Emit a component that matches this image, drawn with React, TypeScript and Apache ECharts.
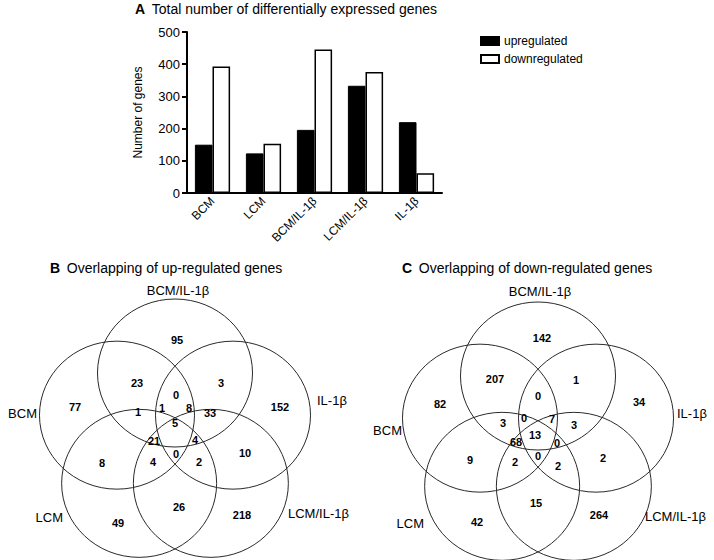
import React, { useEffect, useRef } from 'react';
import * as echarts from 'echarts';

const FONT = '"Liberation Sans", Arial, Helvetica, sans-serif';

// ---- Panel A data ----
const categories = ['BCM', 'LCM', 'BCM/IL-1β', 'LCM/IL-1β', 'IL-1β'];
const upregulated = [150, 123, 196, 333, 220];
const downregulated = [393, 153, 446, 376, 61];
const yMin = 0;
const yMax = 500;
const yInterval = 100;

// ---- Panel B / C data (Venn region counts) ----
const upOverlapCounts = [95, 23, 3, 0, 77, 152, 1, 1, 8, 33, 5, 21, 4, 10, 8, 4, 0, 2, 26, 218, 49];
const downOverlapCounts = [142, 207, 1, 0, 82, 34, 3, 0, 7, 3, 13, 68, 0, 2, 9, 2, 0, 2, 15, 264, 42];
// set names: top, right, lower-right, lower-left, left
const vennSetNames = ['BCM/IL-1β', 'IL-1β', 'LCM/IL-1β', 'LCM', 'BCM'];

// ---- layout (positions, not data) ----
const upCenter = [175, 434];
const downCenter = [538, 437];
const upCountOffsets = [
  [2, -94], [-38, -51], [46, -51], [1, -39], [-100, -27], [105, -27],
  [-37, -22], [-13, -26], [14, -26], [35, -21], [0, -11], [-21, 7], [20, 6],
  [70, 19], [-73, 29], [-22, 28], [1, 20], [24, 28], [4, 73], [67, 81], [-57, 89],
];
const downCountOffsets = [
  [4, -99], [-43, -58], [38, -57], [0, -41], [-98, -33], [101, -35],
  [-35, -14], [-14, -19], [14, -18], [36, -12], [-3, -2], [-22, 5], [19, 6],
  [65, 21], [-68, 23], [-23, 25], [0, 19], [20, 29], [-2, 66], [61, 78], [-61, 85],
];
const upSetLabelPos: [number, number, string][] = [
  [178, 290, 'center'], [317, 400, 'left'], [288, 513, 'left'], [63, 517, 'right'], [37, 413, 'right'],
];
const downSetLabelPos: [number, number, string][] = [
  [540, 291, 'center'], [677, 413, 'left'], [645, 516, 'left'], [424, 523, 'right'], [402, 430, 'right'],
];
const ellipseAngles = [-90, -18, 54, 126, 198];

function vennGraphics(center: number[], counts: number[], offsets: number[][], setPos: [number, number, string][]) {
  const els: any[] = [];
  const dist = 61;
  ellipseAngles.forEach((a) => {
    const r = (a * Math.PI) / 180;
    els.push({
      type: 'ellipse',
      shape: { cx: center[0] + dist * Math.cos(r), cy: center[1] + dist * Math.sin(r), rx: 77.5, ry: 74 },
      style: { fill: 'none', stroke: '#2a2a2a', lineWidth: 1 },
      silent: true,
    });
  });
  counts.forEach((c, i) => {
    els.push({
      type: 'text',
      x: center[0] + offsets[i][0],
      y: center[1] + offsets[i][1],
      style: {
        text: String(c), fontSize: 11, fontWeight: 'bold', fontFamily: FONT,
        fill: '#000', align: 'center', verticalAlign: 'middle',
      },
    });
  });
  vennSetNames.forEach((n, i) => {
    els.push({
      type: 'text',
      x: setPos[i][0],
      y: setPos[i][1],
      style: {
        text: n, fontSize: 13, fontFamily: FONT, fill: '#000',
        align: setPos[i][2], verticalAlign: 'middle',
      },
    });
  });
  return els;
}

function titleText(x: number, y: number, letter: string, text: string) {
  return {
    type: 'text',
    x, y,
    style: {
      text: `{l|${letter}}  {t|${text}}`,
      fontFamily: FONT,
      verticalAlign: 'middle',
      rich: {
        l: { fontSize: 14, fontWeight: 'bold', fontFamily: FONT, fill: '#000' },
        t: { fontSize: 14, fontFamily: FONT, fill: '#000' },
      },
    },
  };
}

export default function App() {
  const ref = useRef<HTMLDivElement>(null);
  useEffect(() => {
    if (!ref.current) return;
    const chart = echarts.init(ref.current, null, { renderer: 'svg' });
    chart.setOption({
      animation: false,
      backgroundColor: '#fff',
      textStyle: { fontFamily: FONT },
      grid: { left: 187, right: 272, top: 32, bottom: 367, containLabel: false },
      legend: {
        orient: 'vertical',
        left: 475,
        top: 30,
        itemWidth: 18,
        itemHeight: 8,
        itemGap: 6,
        icon: 'rect',
        textStyle: { fontSize: 12, color: '#000', fontFamily: FONT },
        data: ['upregulated', 'downregulated'],
      },
      xAxis: {
        type: 'category',
        data: categories,
        axisLine: { lineStyle: { color: '#000', width: 2 } },
        axisTick: { show: false },
        axisLabel: { rotate: 45, fontSize: 12, color: '#000', margin: 6, interval: 0, fontFamily: FONT },
      },
      yAxis: {
        type: 'value',
        min: yMin,
        max: yMax,
        interval: yInterval,
        name: 'Number of genes',
        nameLocation: 'middle',
        nameGap: 43,
        nameTextStyle: { fontSize: 12, color: '#000', fontFamily: FONT },
        axisLine: { show: true, lineStyle: { color: '#000', width: 2 } },
        axisTick: { show: true, length: 5, lineStyle: { color: '#000', width: 2 } },
        axisLabel: { fontSize: 13, color: '#000', margin: 7, fontFamily: FONT },
        splitLine: { show: false },
      },
      series: [
        {
          name: 'upregulated', type: 'bar', data: upregulated,
          barGap: '0%', barCategoryGap: '31%',
          itemStyle: { color: '#000', borderColor: '#000', borderWidth: 1 },
        },
        {
          name: 'downregulated', type: 'bar', data: downregulated,
          barGap: '0%', barCategoryGap: '31%',
          itemStyle: { color: '#fff', borderColor: '#000', borderWidth: 1.5 },
        },
      ],
      graphic: [
        titleText(135, 9, 'A', 'Total number of differentially expressed genes'),
        titleText(50, 268, 'B', 'Overlapping of up-regulated genes'),
        titleText(402, 268, 'C', 'Overlapping of down-regulated genes'),
        ...vennGraphics(upCenter, upOverlapCounts, upCountOffsets, upSetLabelPos),
        ...vennGraphics(downCenter, downOverlapCounts, downCountOffsets, downSetLabelPos),
      ],
    });
    return () => chart.dispose();
  }, []);
  return (
    <div
      ref={ref}
      style={{ position: 'fixed', left: 0, top: 0, width: 714, height: 560, background: '#fff' }}
    />
  );
}
